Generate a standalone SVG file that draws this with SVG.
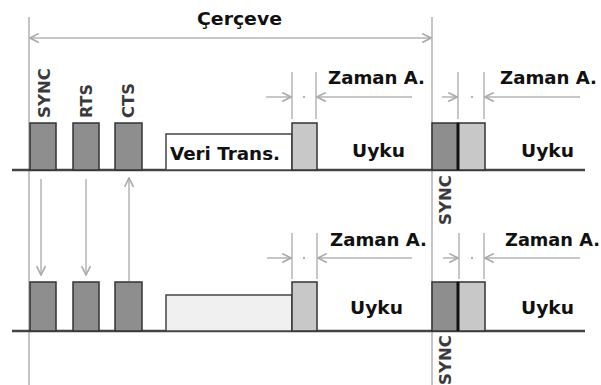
<svg xmlns="http://www.w3.org/2000/svg" width="601" height="385" viewBox="0 0 601 385">
  <style>
    .lbl { font-family: "DejaVu Sans", Verdana, sans-serif; font-weight: bold; font-size: 17px; fill: #111; }
    .sig { font-family: "DejaVu Sans Condensed", "DejaVu Sans", sans-serif; font-weight: bold; font-size: 15px; fill: #3a3a3a; }
    .guide { stroke: #c4c4c4; stroke-width: 2; fill: none; }
    .dim { stroke: #b4b4b4; stroke-width: 1.5; fill: none; }
    .base { stroke: #444; stroke-width: 2.5; fill: none; }
    .dark { fill: #8e8e8e; stroke: #333; stroke-width: 1.5; }
    .light { fill: #c8c8c8; stroke: #333; stroke-width: 1.5; }
    .sep { stroke: #111; stroke-width: 3; }
    .frame { fill: #fff; stroke: #444; stroke-width: 1.5; }
    .frame2 { fill: #f0f0f0; stroke: #444; stroke-width: 1.5; }
    .dot { fill: #b4b4b4; }
  </style>
  <defs>
    <marker id="open" viewBox="0 0 10 10" refX="9" refY="5" markerWidth="11" markerHeight="11" markerUnits="userSpaceOnUse" orient="auto-start-reverse">
      <path d="M1,1 L9,5 L1,9" fill="none" stroke="#aaa" stroke-width="1.5"/>
    </marker>
  </defs>

  <!-- frame boundaries -->
  <g id="guides">
    <line class="guide" x1="29" y1="17" x2="29" y2="385"/>
    <line class="guide" x1="432" y1="17" x2="432" y2="385"/>
  </g>

  <!-- frame length -->
  <g id="frame-span">
    <line class="dim" x1="30" y1="38" x2="431" y2="38" marker-start="url(#open)" marker-end="url(#open)"/>
    <text class="lbl" x="197" y="25" textLength="85" lengthAdjust="spacingAndGlyphs">Çerçeve</text>
  </g>

  <!-- upper timeline -->
  <g id="row1">
    <line class="base" x1="12" y1="170" x2="585" y2="170"/>
    <g id="r1-sync">
      <rect class="dark" x="30" y="123" width="26" height="47"/>
      <text class="sig" transform="translate(50,118) rotate(-90)" textLength="50" lengthAdjust="spacingAndGlyphs">SYNC</text>
    </g>
    <g id="r1-rts">
      <rect class="dark" x="73" y="123" width="26" height="47"/>
      <text class="sig" transform="translate(92,118) rotate(-90)" textLength="34" lengthAdjust="spacingAndGlyphs">RTS</text>
    </g>
    <g id="r1-cts">
      <rect class="dark" x="115" y="123" width="27" height="47"/>
      <text class="sig" transform="translate(134,118) rotate(-90)" textLength="35" lengthAdjust="spacingAndGlyphs">CTS</text>
    </g>
    <g id="r1-data">
      <rect class="frame" x="166" y="134" width="126" height="36"/>
      <text class="lbl" x="170" y="160" textLength="110" lengthAdjust="spacingAndGlyphs">Veri Trans.</text>
    </g>
    <g id="r1-ack">
      <rect class="light" x="292" y="123" width="25" height="47"/>
    </g>
    <g id="r1-wait1">
      <line class="dim" x1="292" y1="72" x2="292" y2="119"/>
      <line class="dim" x1="316" y1="72" x2="316" y2="119"/>
      <line class="dim" x1="266" y1="97" x2="291" y2="97" marker-end="url(#open)"/>
      <circle class="dot" cx="304" cy="97" r="1.2"/>
      <line class="dim" x1="412" y1="97" x2="317" y2="97" marker-end="url(#open)"/>
      <text class="lbl" x="328" y="84" textLength="97" lengthAdjust="spacingAndGlyphs">Zaman A.</text>
    </g>
    <text class="lbl" x="352" y="157" textLength="53" lengthAdjust="spacingAndGlyphs">Uyku</text>
    <g id="r1-sync2">
      <rect class="dark" x="432" y="123" width="26" height="47"/>
      <rect class="light" x="458" y="123" width="27" height="47"/>
      <line class="sep" x1="458" y1="123" x2="458" y2="170"/>
      <text class="sig" transform="translate(451,225) rotate(-90)" textLength="50" lengthAdjust="spacingAndGlyphs">SYNC</text>
    </g>
    <g id="r1-wait2">
      <line class="dim" x1="458" y1="72" x2="458" y2="119"/>
      <line class="dim" x1="484" y1="72" x2="484" y2="119"/>
      <line class="dim" x1="442" y1="97" x2="457" y2="97" marker-end="url(#open)"/>
      <circle class="dot" cx="472" cy="97" r="1.2"/>
      <line class="dim" x1="580" y1="97" x2="485" y2="97" marker-end="url(#open)"/>
      <text class="lbl" x="500" y="84" textLength="97" lengthAdjust="spacingAndGlyphs">Zaman A.</text>
    </g>
    <text class="lbl" x="521" y="157" textLength="53" lengthAdjust="spacingAndGlyphs">Uyku</text>
  </g>

  <!-- handshake connectors -->
  <g id="connectors">
    <line class="dim" x1="41" y1="179" x2="41" y2="275" marker-end="url(#open)"/>
    <line class="dim" x1="86" y1="179" x2="86" y2="275" marker-end="url(#open)"/>
    <line class="dim" x1="129" y1="281" x2="129" y2="178" marker-end="url(#open)"/>
  </g>

  <!-- lower timeline -->
  <g id="row2">
    <line class="base" x1="12" y1="331" x2="585" y2="331"/>
    <rect id="r2-sync" class="dark" x="30" y="282" width="26" height="49"/>
    <rect id="r2-rts" class="dark" x="73" y="282" width="26" height="49"/>
    <rect id="r2-cts" class="dark" x="115" y="282" width="27" height="49"/>
    <rect id="r2-data" class="frame2" x="166" y="295" width="126" height="36"/>
    <rect id="r2-ack" class="light" x="292" y="282" width="25" height="49"/>
    <g id="r2-wait1">
      <line class="dim" x1="292" y1="233" x2="292" y2="279"/>
      <line class="dim" x1="317" y1="233" x2="317" y2="279"/>
      <line class="dim" x1="267" y1="258" x2="291" y2="258" marker-end="url(#open)"/>
      <circle class="dot" cx="304" cy="258" r="1.2"/>
      <line class="dim" x1="412" y1="258" x2="318" y2="258" marker-end="url(#open)"/>
      <text class="lbl" x="330" y="246" textLength="97" lengthAdjust="spacingAndGlyphs">Zaman A.</text>
    </g>
    <text class="lbl" x="350" y="314" textLength="53" lengthAdjust="spacingAndGlyphs">Uyku</text>
    <g id="r2-sync2">
      <rect class="dark" x="432" y="282" width="26" height="49"/>
      <rect class="light" x="458" y="282" width="27" height="49"/>
      <line class="sep" x1="458" y1="282" x2="458" y2="331"/>
      <text class="sig" transform="translate(451,385) rotate(-90)" textLength="50" lengthAdjust="spacingAndGlyphs">SYNC</text>
    </g>
    <g id="r2-wait2">
      <line class="dim" x1="459" y1="233" x2="459" y2="279"/>
      <line class="dim" x1="484" y1="233" x2="484" y2="279"/>
      <line class="dim" x1="443" y1="258" x2="458" y2="258" marker-end="url(#open)"/>
      <circle class="dot" cx="472" cy="258" r="1.2"/>
      <line class="dim" x1="580" y1="258" x2="485" y2="258" marker-end="url(#open)"/>
      <text class="lbl" x="505" y="246" textLength="95" lengthAdjust="spacingAndGlyphs">Zaman A.</text>
    </g>
    <text class="lbl" x="521" y="314" textLength="53" lengthAdjust="spacingAndGlyphs">Uyku</text>
  </g>
</svg>
